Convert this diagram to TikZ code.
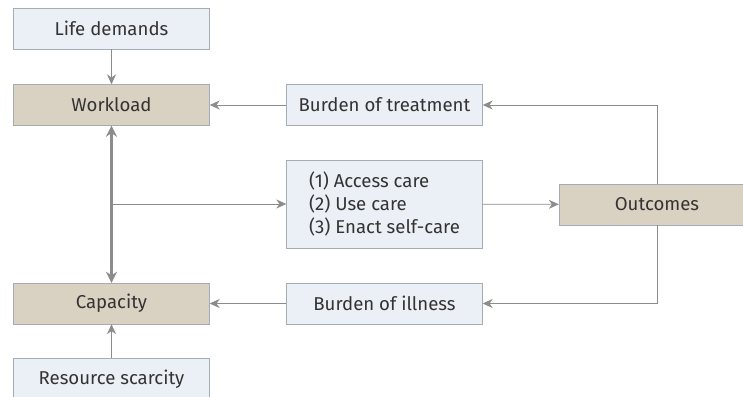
\documentclass[tikz,border=0pt]{standalone}
\usepackage{fontspec}
\setmainfont{Fira Sans}
\usepackage{xcolor}
\usetikzlibrary{arrows.meta}
\definecolor{boxfill}{RGB}{234,240,245}
\definecolor{boxline}{RGB}{165,172,180}
\definecolor{tanfill}{RGB}{217,209,193}
\definecolor{linkgray}{RGB}{140,140,140}
\begin{document}
\begin{tikzpicture}[x=1pt, y=-1pt,
    lightbox/.style={draw=boxline, fill=boxfill, minimum width=196pt, minimum height=41pt,
      inner sep=0pt, font=\fontsize{18.6}{23}\selectfont, text=black!80},
    tanbox/.style={lightbox, fill=tanfill},
    link/.style={draw=linkgray, line width=0.8pt, -{Stealth[length=10pt, width=9pt]}}]
    \clip (0,0) rectangle (743,396);
    \fill[white] (0,0) rectangle (743,396);
    \node[lightbox] (life) at (111.5,28.5) {Life demands};
    \node[tanbox] (work) at (111.5,105) {Workload};
    \node[lightbox] (bot) at (384.5,105) {Burden of treatment};
    \node[lightbox, minimum height=88pt, align=left] (acts) at (384.5,204) {(1) Access care\\(2) Use care\\(3) Enact self-care};
    \node[tanbox] (out) at (657,204.5) {Outcomes};
    \node[lightbox] (boi) at (384.5,303.5) {Burden of illness};
    \node[tanbox] (cap) at (111.5,303.5) {Capacity};
    \node[lightbox] (res) at (111.5,379) {Resource scarcity};
    \coordinate (split) at (111.5,204);
    \draw[link] (life) -- (work);
    \draw[link] (bot) -- (work);
    \draw[link] (out.north) |- (bot);
    \draw[link] (out.south) |- (boi);
    \draw[link] (boi) -- (cap);
    \draw[link] (res) -- (cap);
    \draw[link] (split) -- (acts);
    \draw[link] (acts) -- (out);
    \draw[draw=linkgray, line width=2.6pt, {Stealth[length=11pt, width=11pt]}-{Stealth[length=11pt, width=11pt]}] (work) -- (cap);
\end{tikzpicture}
\end{document}
